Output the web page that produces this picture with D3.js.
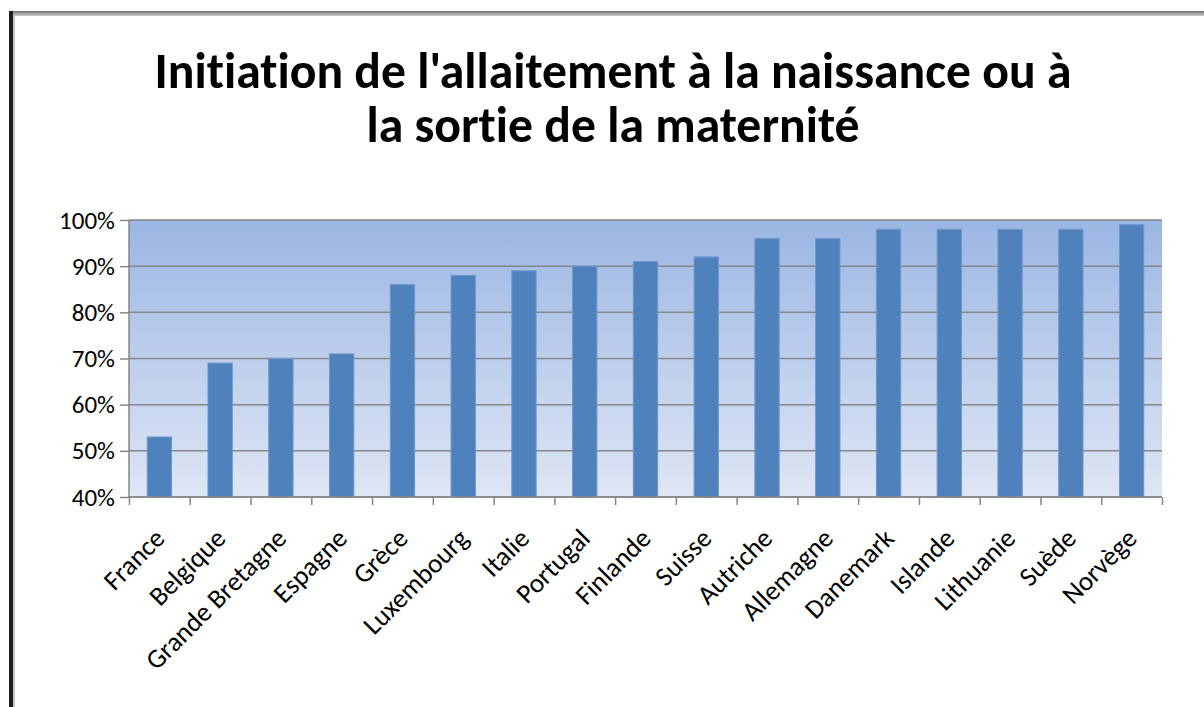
<!DOCTYPE html>
<html>
<head>
<meta charset="utf-8">
<script src="https://cdn.jsdelivr.net/npm/d3@7"></script>
<style>
  body { margin: 0; background: #fff; }
  svg { display: block; font-family: Calibri, Carlito, Lato, sans-serif; font-variant-ligatures: none; }
</style>
</head>
<body>
<script>

var countries = ['France', 'Belgique', 'Grande Bretagne', 'Espagne', 'Grèce', 'Luxembourg', 'Italie',
  'Portugal', 'Finlande', 'Suisse', 'Autriche', 'Allemagne', 'Danemark', 'Islande', 'Lithuanie', 'Suède', 'Norvège'];
var rates = [0.53, 0.69, 0.70, 0.71, 0.86, 0.88, 0.89, 0.90, 0.91, 0.92, 0.96, 0.96, 0.98, 0.98, 0.98, 0.98, 0.99];
var yTicks = [0.4, 0.5, 0.6, 0.7, 0.8, 0.9, 1.0];
var titleLines = ["Initiation de l'allaitement à la naissance ou à", 'la sortie de la maternité'];

var svgWidth = 1204,
    svgHeight = 707;

var margin = {top: 220, left: 129, bottom: 210, right: 42};

var width = svgWidth - margin.left - margin.right,
    height = svgHeight - margin.top - margin.bottom;

var svg = d3.select('body').append('svg')
  .attr('width', svgWidth)
  .attr('height', svgHeight)

var defs = svg.append('defs')
var grad = defs.append('linearGradient')
  .attr('id', 'plotbg')
  .attr('x1', 0).attr('y1', 0).attr('x2', 0).attr('y2', 1)
grad.append('stop').attr('offset', '0%').attr('stop-color', '#9bb6e3')
grad.append('stop').attr('offset', '100%').attr('stop-color', '#dfe6f5')

var edge = defs.append('linearGradient')
  .attr('id', 'topedge')
  .attr('x1', 0).attr('y1', 0).attr('x2', 0).attr('y2', 1)
edge.append('stop').attr('offset', '0%').attr('stop-color', '#6e6e6e')
edge.append('stop').attr('offset', '100%').attr('stop-color', '#d0d0d0')

// window frame of the screenshot
svg.append('rect').attr('x', 9).attr('y', 11).attr('width', svgWidth - 9).attr('height', 5).attr('fill', 'url(#topedge)')
svg.append('rect').attr('x', 9).attr('y', 11).attr('width', 4).attr('height', svgHeight - 11).attr('fill', '#1e1e1e')
svg.append('rect').attr('x', 13).attr('y', 16).attr('width', 2).attr('height', svgHeight - 16).attr('fill', '#c4c4c4')

// title, sized to the width it has in the picture
var title = svg.append('g').attr('class', 'title')
var titleText = title.selectAll('text').data(titleLines).enter().append('text')
  .attr('x', 613)
  .attr('y', (d, i) => 88 + i * 54)
  .attr('text-anchor', 'middle')
  .style('font-weight', 'bold')
  .style('font-size', '48px')
  .attr('fill', '#000')
  .text(d => d)
var len = titleText.node().getComputedTextLength();
titleText.style('font-size', (48 * 917 / len) + 'px')

var g = svg.append('g')
  .attr('transform', `translate(${margin.left},${margin.top})`)

var xScale = d3.scaleBand().domain(countries).range([0, width]).paddingInner(0.6).paddingOuter(0.3)
var xEdges = d3.scaleLinear().domain([0, countries.length]).range([0, width])
var yScale = d3.scaleLinear().domain([0.4, 1.0]).range([height, 0])

g.append('rect')
  .attr('width', width)
  .attr('height', height)
  .attr('fill', 'url(#plotbg)')

g.selectAll('.grid').data(yTicks).enter()
  .append('line')
  .attr('class', 'grid')
  .attr('x1', 0)
  .attr('x2', width)
  .attr('y1', d => yScale(d))
  .attr('y2', d => yScale(d))
  .attr('stroke', '#868686')
  .attr('stroke-width', 1.5)

g.selectAll('.bar').data(rates).enter()
  .append('rect')
  .attr('class', 'bar')
  .attr('x', (d, i) => xScale(countries[i]))
  .attr('y', d => yScale(d))
  .attr('width', xScale.bandwidth())
  .attr('height', d => height - yScale(d))
  .attr('fill', '#4f81bd')
  .attr('stroke', '#6e97cc')
  .attr('stroke-width', 1)

var yAxis = d3.axisLeft(yScale).tickValues(yTicks).tickFormat(d3.format('.0%')).tickSize(9).tickPadding(5)
var xAxis = d3.axisBottom(xEdges).tickValues(d3.range(countries.length + 1)).tickFormat('').tickSize(8)

var ya = g.append('g').attr('class', 'axis-y').call(yAxis)
var xa = g.append('g').attr('class', 'axis-x').attr('transform', `translate(0,${height})`).call(xAxis)

svg.selectAll('.domain').attr('stroke', '#868686').attr('stroke-width', 1.5)
svg.selectAll('.tick line').attr('stroke', '#868686').attr('stroke-width', 1.5)
ya.select('.domain').attr('d', `M0,${height}V0`)
xa.select('.domain').attr('d', `M0,0H${width}`)

ya.selectAll('text')
  .style('font-size', '25px')
  .style('font-family', 'Calibri, Carlito, Lato, sans-serif')
  .attr('fill', '#000')

// rotated category labels
g.selectAll('.cat').data(countries).enter()
  .append('text')
  .attr('class', 'cat')
  .attr('text-anchor', 'end')
  .attr('transform', d => `translate(${xScale(d) + xScale.bandwidth() / 2 + 7},${height + 43}) rotate(-45)`)
  .style('font-size', '27px')
  .attr('fill', '#000')
  .text(d => d)

</script>
</body>
</html>
